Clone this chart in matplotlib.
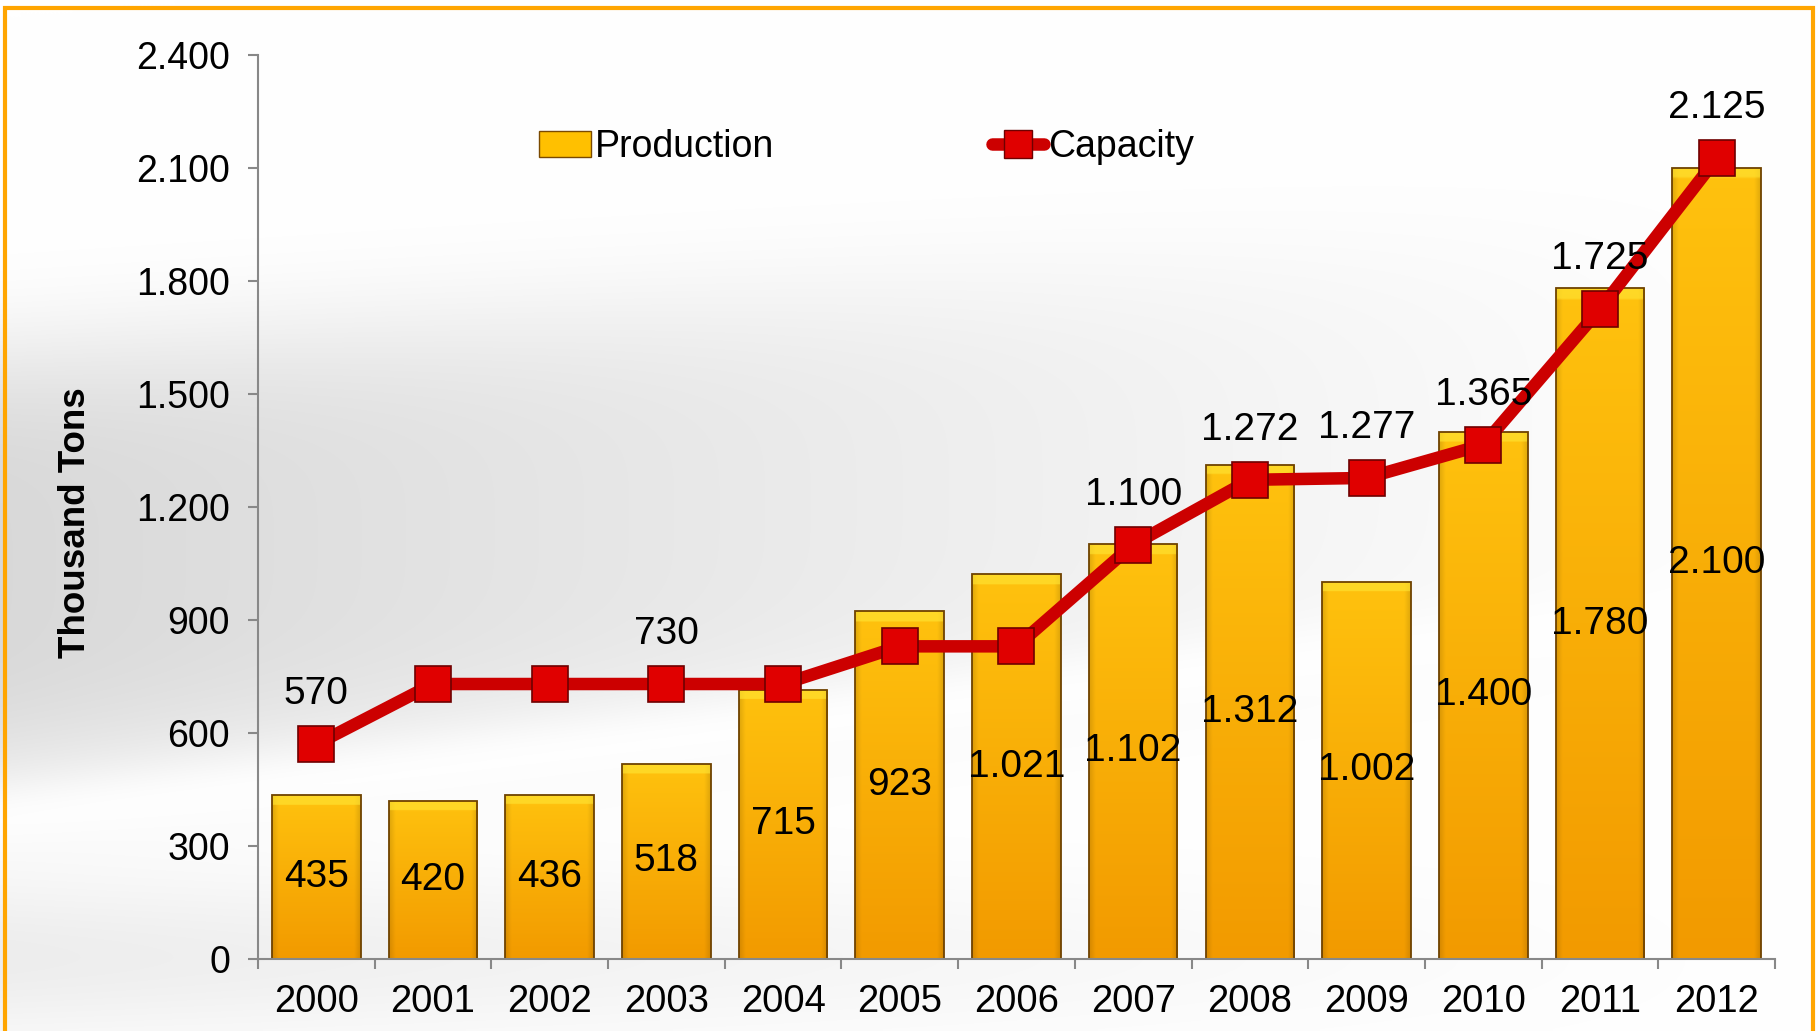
import numpy as np
import matplotlib.pyplot as plt
from matplotlib.patches import Patch, Rectangle
from matplotlib.lines import Line2D
from matplotlib.colors import to_rgb
from matplotlib.ticker import FuncFormatter

plt.rcParams['font.family'] = ['Liberation Sans', 'DejaVu Sans']

years = ['2000', '2001', '2002', '2003', '2004', '2005', '2006',
         '2007', '2008', '2009', '2010', '2011', '2012']
production = [435, 420, 436, 518, 715, 923, 1021, 1102, 1312, 1002, 1400, 1780, 2100]
capacity = [570, 730, 730, 730, 730, 830, 830, 1100, 1272, 1277, 1365, 1725, 2125]
capacity_labeled = [True, False, False, True, False, False, False,
                    True, True, True, True, True, True]
y_ticks = [0, 300, 600, 900, 1200, 1500, 1800, 2100, 2400]


def dotted(v):
    return f"{int(v):,}".replace(",", ".")


fig = plt.figure(figsize=(18.19, 10.31), dpi=100)
fig.patch.set_facecolor('white')

# soft grey swirl behind the chart
bg = fig.add_axes([0, 0, 1, 1], zorder=-10)
u, v = np.meshgrid(np.linspace(0, 1, 460), np.linspace(0, 1, 260))
centre = 0.55 - 0.14 * u
fade = np.clip(1 - u, 0, 1) ** 1.1
grey = 0.15 * np.exp(-((v - centre) / 0.22) ** 4) * fade
streak = 0.80 - 0.22 * u
grey *= 1 - 0.9 * np.exp(-((v - streak) / 0.035) ** 2)
grey += 0.07 * np.exp(-((v - 0.93) / 0.08) ** 2) * fade
rgb = np.clip(1 - grey, 0, 1)[..., None] * np.ones(3)
bg.imshow(rgb, extent=[0, 1, 0, 1], aspect='auto', interpolation='bilinear')
bg.axis('off')

ax = fig.add_axes([0.1418, 0.0698, 0.834, 0.877])
ax.patch.set_alpha(0)
x = np.arange(len(years))

bars = ax.bar(x, production, width=0.76, facecolor='none',
              edgecolor='#6e4200', linewidth=1.3, zorder=2.2)

top_col = np.array(to_rgb('#FFC20E'))
bot_col = np.array(to_rgb('#F29A00'))
hl_col = np.array(to_rgb('#FFE433'))
for b in bars:
    x0, y0, w, h = b.get_x(), b.get_y(), b.get_width(), b.get_height()
    t = np.linspace(0, 1, 300)[:, None, None]
    s = np.linspace(0, 1, 80)[None, :, None]
    col = top_col * (1 - t) + bot_col * t
    col = np.broadcast_to(col, (300, 80, 3)).copy()
    edge = np.clip(np.minimum(s, 1 - s) / 0.07, 0, 1)
    col *= 0.88 + 0.12 * edge
    hl = np.linspace(0, 1, 300) < 26 / h
    col[hl] = col[hl] * 0.35 + hl_col * 0.65
    im = ax.imshow(np.clip(col, 0, 1), extent=[x0, x0 + w, y0, y0 + h],
                   aspect='auto', zorder=2.1, interpolation='bilinear')
    im.set_clip_path(b)

for i, p in enumerate(production):
    ax.text(i, p / 2, dotted(p), ha='center', va='center', fontsize=28, zorder=3)

ax.plot(x, capacity, color='#CC0000', lw=9, marker='s', ms=26,
        mfc='#E00000', mec='#6e0000', mew=1.2, zorder=4)

for i, c in enumerate(capacity):
    if capacity_labeled[i]:
        ax.annotate(dotted(c), (i, c), xytext=(0, 36), textcoords='offset points',
                    ha='center', va='center', fontsize=28, zorder=5)

ax.set_xlim(-0.5, 12.5)
ax.set_ylim(0, 2400)
ax.set_yticks(y_ticks)
ax.yaxis.set_major_formatter(FuncFormatter(lambda val, pos: dotted(val)))
ax.set_xticks(x, years)
ax.set_xticks(np.arange(-0.5, 13, 1), minor=True)
ax.tick_params(axis='x', which='major', length=0, pad=18, labelsize=27.5)
ax.tick_params(axis='x', which='minor', length=7, width=1.5, color='#888888')
ax.tick_params(axis='y', length=7, width=1.5, color='#888888', pad=13, labelsize=27)

for side in ['top', 'right']:
    ax.spines[side].set_visible(False)
for side in ['left', 'bottom']:
    ax.spines[side].set_color('#888888')
    ax.spines[side].set_linewidth(1.5)

ax.set_ylabel('Thousand Tons', fontsize=26.5, fontweight='bold')
ax.yaxis.set_label_coords(-0.109, 0.483)

handles = [
    Patch(facecolor='#FFC000', edgecolor='#7a4a00'),
    Line2D([], [], color='#CC0000', lw=9, marker='s', ms=20,
           mfc='#E00000', mec='#6e0000', solid_capstyle='round'),
]
ax.legend(handles, ['Production', 'Capacity'], ncol=2, loc='center left',
          bbox_to_anchor=(0.185, 0.898), frameon=False, fontsize=27,
          handlelength=1.4, handletextpad=0.1, columnspacing=5.8,
          borderpad=0, borderaxespad=0)

# orange frame, bottom edge runs off the picture
frame = Rectangle((5 / 1819, -0.1), 1808 / 1819, 1.1 - 8 / 1031,
                  transform=fig.transFigure, fill=False,
                  edgecolor='#FFA500', lw=3, clip_on=False)
fig.add_artist(frame)

fig.savefig('out.png', dpi=100)
